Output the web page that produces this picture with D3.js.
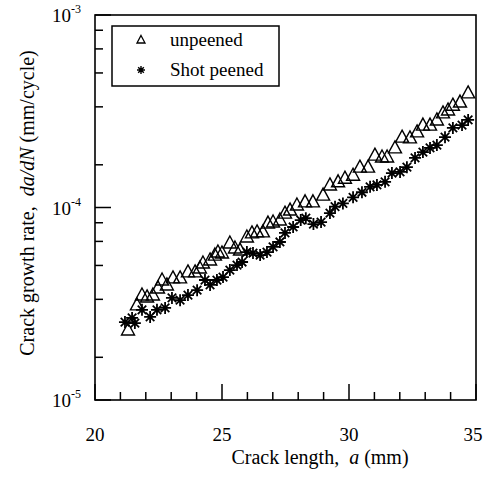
<!DOCTYPE html>
<html>
<head>
<meta charset="utf-8">
<script src="https://cdn.jsdelivr.net/npm/d3@7"></script>
<style>
  body { margin: 0; background: #fff; }
  text { font-family: "Liberation Serif", "Times New Roman", serif; fill: #000; }
</style>
</head>
<body>
<div id="chart"></div>
<script>
/* DATA */
const unpeenedA = [21.30, 21.65, 21.85, 22.05, 22.28, 22.48, 22.64, 22.83, 23.07, 23.35,
  23.66, 23.94, 24.13, 24.25, 24.53, 24.72, 24.84, 25.00, 25.31, 25.51,
  25.71, 25.98, 26.18, 26.38, 26.61, 26.81, 27.01, 27.28, 27.48, 27.68,
  27.95, 28.27, 28.58, 28.98, 29.25, 29.57, 29.84, 30.16, 30.43, 30.75,
  31.02, 31.30, 31.50, 31.81, 32.09, 32.40, 32.68, 32.91, 33.19, 33.46,
  33.70, 33.90, 34.09, 34.37, 34.69];
const unpeenedRate = [2.31e-5, 3.12e-5, 3.51e-5, 3.43e-5, 3.51e-5, 3.82e-5, 4.20e-5, 3.96e-5, 4.31e-5, 4.31e-5,
  4.63e-5, 4.63e-5, 4.85e-5, 5.15e-5, 5.34e-5, 5.66e-5, 5.87e-5, 5.80e-5, 6.54e-5, 6.16e-5,
  6.01e-5, 7.03e-5, 7.38e-5, 7.47e-5, 7.47e-5, 8.30e-5, 8.41e-5, 8.61e-5, 9.35e-5, 9.70e-5,
  1.03e-4, 1.07e-4, 1.07e-4, 1.16e-4, 1.31e-4, 1.36e-4, 1.42e-4, 1.47e-4, 1.62e-4, 1.62e-4,
  1.87e-4, 1.83e-4, 1.83e-4, 2.04e-4, 2.32e-4, 2.30e-4, 2.47e-4, 2.68e-4, 2.68e-4, 2.85e-4,
  3.10e-4, 3.21e-4, 3.40e-4, 3.53e-4, 3.94e-4];

const peenedA = [21.18, 21.46, 21.57, 21.85, 22.17, 22.44, 22.76, 23.03, 23.35, 23.66,
  24.02, 24.33, 24.53, 24.80, 25.04, 25.31, 25.59, 25.79, 25.98, 26.22,
  26.50, 26.77, 27.01, 27.28, 27.48, 27.80, 28.10, 28.30, 28.60, 28.90,
  29.25, 29.45, 29.76, 30.16, 30.51, 30.83, 31.10, 31.42, 31.69, 32.01,
  32.28, 32.60, 32.91, 33.19, 33.46, 33.78, 34.09, 34.45, 34.69];
const peenedRate = [2.54e-5, 2.67e-5, 2.51e-5, 2.94e-5, 2.70e-5, 2.94e-5, 3.01e-5, 3.39e-5, 3.30e-5, 3.51e-5,
  3.72e-5, 4.20e-5, 3.96e-5, 4.20e-5, 4.35e-5, 4.73e-5, 5.02e-5, 5.21e-5, 5.87e-5, 5.80e-5,
  5.66e-5, 5.87e-5, 6.24e-5, 6.62e-5, 7.38e-5, 7.92e-5, 8.60e-5, 8.80e-5, 8.20e-5, 8.40e-5,
  9.35e-5, 1.01e-4, 1.05e-4, 1.13e-4, 1.20e-4, 1.28e-4, 1.31e-4, 1.36e-4, 1.51e-4, 1.53e-4,
  1.62e-4, 1.81e-4, 1.94e-4, 2.04e-4, 2.11e-4, 2.32e-4, 2.59e-4, 2.68e-4, 2.85e-4];

const xTickLabels = [20, 25, 30, 35];
const xMinorTicks = [21, 22, 23, 24, 26, 27, 28, 29, 31, 32, 33, 34];
const yMajorTicks = [1e-5, 1e-4, 1e-3];
const yTickExponents = ["-5", "-4", "-3"];
// minor ticks sit below each decade top at top / factor
const yMinorFactors = [1.2, 1.5, 2, 3, 6];

const legendLabels = ["unpeened", "Shot peened"];

/* LAYOUT */
const W = 489, H = 477;
const plot = { left: 95, right: 476, top: 15, bottom: 400 };

const svg = d3.select("#chart").append("svg")
  .attr("width", W).attr("height", H);

const x = d3.scaleLinear().domain([20, 35]).range([plot.left, plot.right]);
const y = d3.scaleLog().domain([1e-5, 1e-3]).range([plot.bottom, plot.top]);

/* MARKERS */
const triPath = "M0,-7L6.5,5L-6.5,5Z";
function starPath(r) {
  const d = r * Math.SQRT1_2;
  return `M0,${-r}V${r}M${-r},0H${r}M${-d},${-d}L${d},${d}M${-d},${d}L${d},${-d}`;
}

/* AXES */
const yMinorTicks = [];
[1e-4, 1e-3].forEach((top) => yMinorFactors.forEach((f) => yMinorTicks.push(top / f)));

const ticks = svg.append("g").attr("stroke", "#000").attr("stroke-width", 1.5);

ticks.selectAll(".ymaj").data(yMajorTicks).enter().append("line")
  .attr("x1", plot.left).attr("x2", plot.left + 16)
  .attr("y1", (d) => y(d)).attr("y2", (d) => y(d));

ticks.selectAll(".ymin").data(yMinorTicks).enter().append("line")
  .attr("x1", plot.left).attr("x2", plot.left + 8)
  .attr("y1", (d) => y(d)).attr("y2", (d) => y(d));

ticks.selectAll(".xmaj").data(xTickLabels).enter().append("line")
  .attr("x1", (d) => x(d)).attr("x2", (d) => x(d))
  .attr("y1", plot.bottom).attr("y2", plot.bottom - 16);

ticks.selectAll(".xmin").data(xMinorTicks).enter().append("line")
  .attr("x1", (d) => x(d)).attr("x2", (d) => x(d))
  .attr("y1", plot.bottom).attr("y2", plot.bottom - 8);

// frame
svg.append("rect")
  .attr("x", plot.left).attr("y", plot.top)
  .attr("width", plot.right - plot.left).attr("height", plot.bottom - plot.top)
  .attr("fill", "none").attr("stroke", "#000").attr("stroke-width", 1.6);

// x tick labels
svg.selectAll(".xlab").data(xTickLabels).enter().append("text")
  .attr("x", (d) => Math.min(x(d), 473)).attr("y", 441)
  .attr("text-anchor", "middle").style("font-size", "19px")
  .text((d) => d);

// y tick labels
const ylab = svg.selectAll(".ylab").data(yMajorTicks).enter().append("text")
  .attr("x", 52).attr("y", (d) => y(d) + 7)
  .style("font-size", "19px");
ylab.append("tspan").text("10");
ylab.append("tspan").attr("dy", -9).style("font-size", "12px")
  .text((d, i) => yTickExponents[i]);

// axis titles
const xt = svg.append("text").attr("x", 320).attr("y", 464)
  .attr("text-anchor", "middle").style("font-size", "20px");
xt.append("tspan").text("Crack length,\u00a0\u00a0");
xt.append("tspan").style("font-style", "italic").text("a");
xt.append("tspan").text(" (mm)");

const yt = svg.append("text")
  .attr("transform", "translate(34,203) rotate(-90)")
  .attr("text-anchor", "middle").style("font-size", "20px");
yt.append("tspan").text("Crack growth rate,\u00a0\u00a0");
yt.append("tspan").style("font-style", "italic").text("da/dN");
yt.append("tspan").text(" (mm/cycle)");

/* DATA POINTS */
const unpeened = unpeenedA.map((a, i) => ({ a: a, r: unpeenedRate[i] }));
const peened = peenedA.map((a, i) => ({ a: a, r: peenedRate[i] }));

svg.append("g").selectAll("path").data(unpeened).enter().append("path")
  .attr("d", triPath)
  .attr("transform", (d) => `translate(${x(d.a)},${y(d.r)})`)
  .attr("fill", "none").attr("stroke", "#000").attr("stroke-width", 1.4);

svg.append("g").selectAll("path").data(peened).enter().append("path")
  .attr("d", starPath(6))
  .attr("transform", (d) => `translate(${x(d.a)},${y(d.r)})`)
  .attr("fill", "none").attr("stroke", "#000").attr("stroke-width", 1.8);

/* LEGEND */
const legend = svg.append("g");
legend.append("rect")
  .attr("x", 112).attr("y", 26).attr("width", 167).attr("height", 60)
  .attr("fill", "#fff").attr("stroke", "#000").attr("stroke-width", 1.5);

legend.append("path").attr("d", "M0,-4.5L4,3L-4,3Z")
  .attr("transform", "translate(141,40)")
  .attr("fill", "none").attr("stroke", "#000").attr("stroke-width", 1.3);
legend.append("path").attr("d", starPath(4))
  .attr("transform", "translate(141,70)")
  .attr("fill", "none").attr("stroke", "#000").attr("stroke-width", 1.4);

legend.selectAll("text").data(legendLabels).enter().append("text")
  .attr("x", 170).attr("y", (d, i) => 46 + i * 30)
  .style("font-size", "19px")
  .text((d) => d);
</script>
</body>
</html>
